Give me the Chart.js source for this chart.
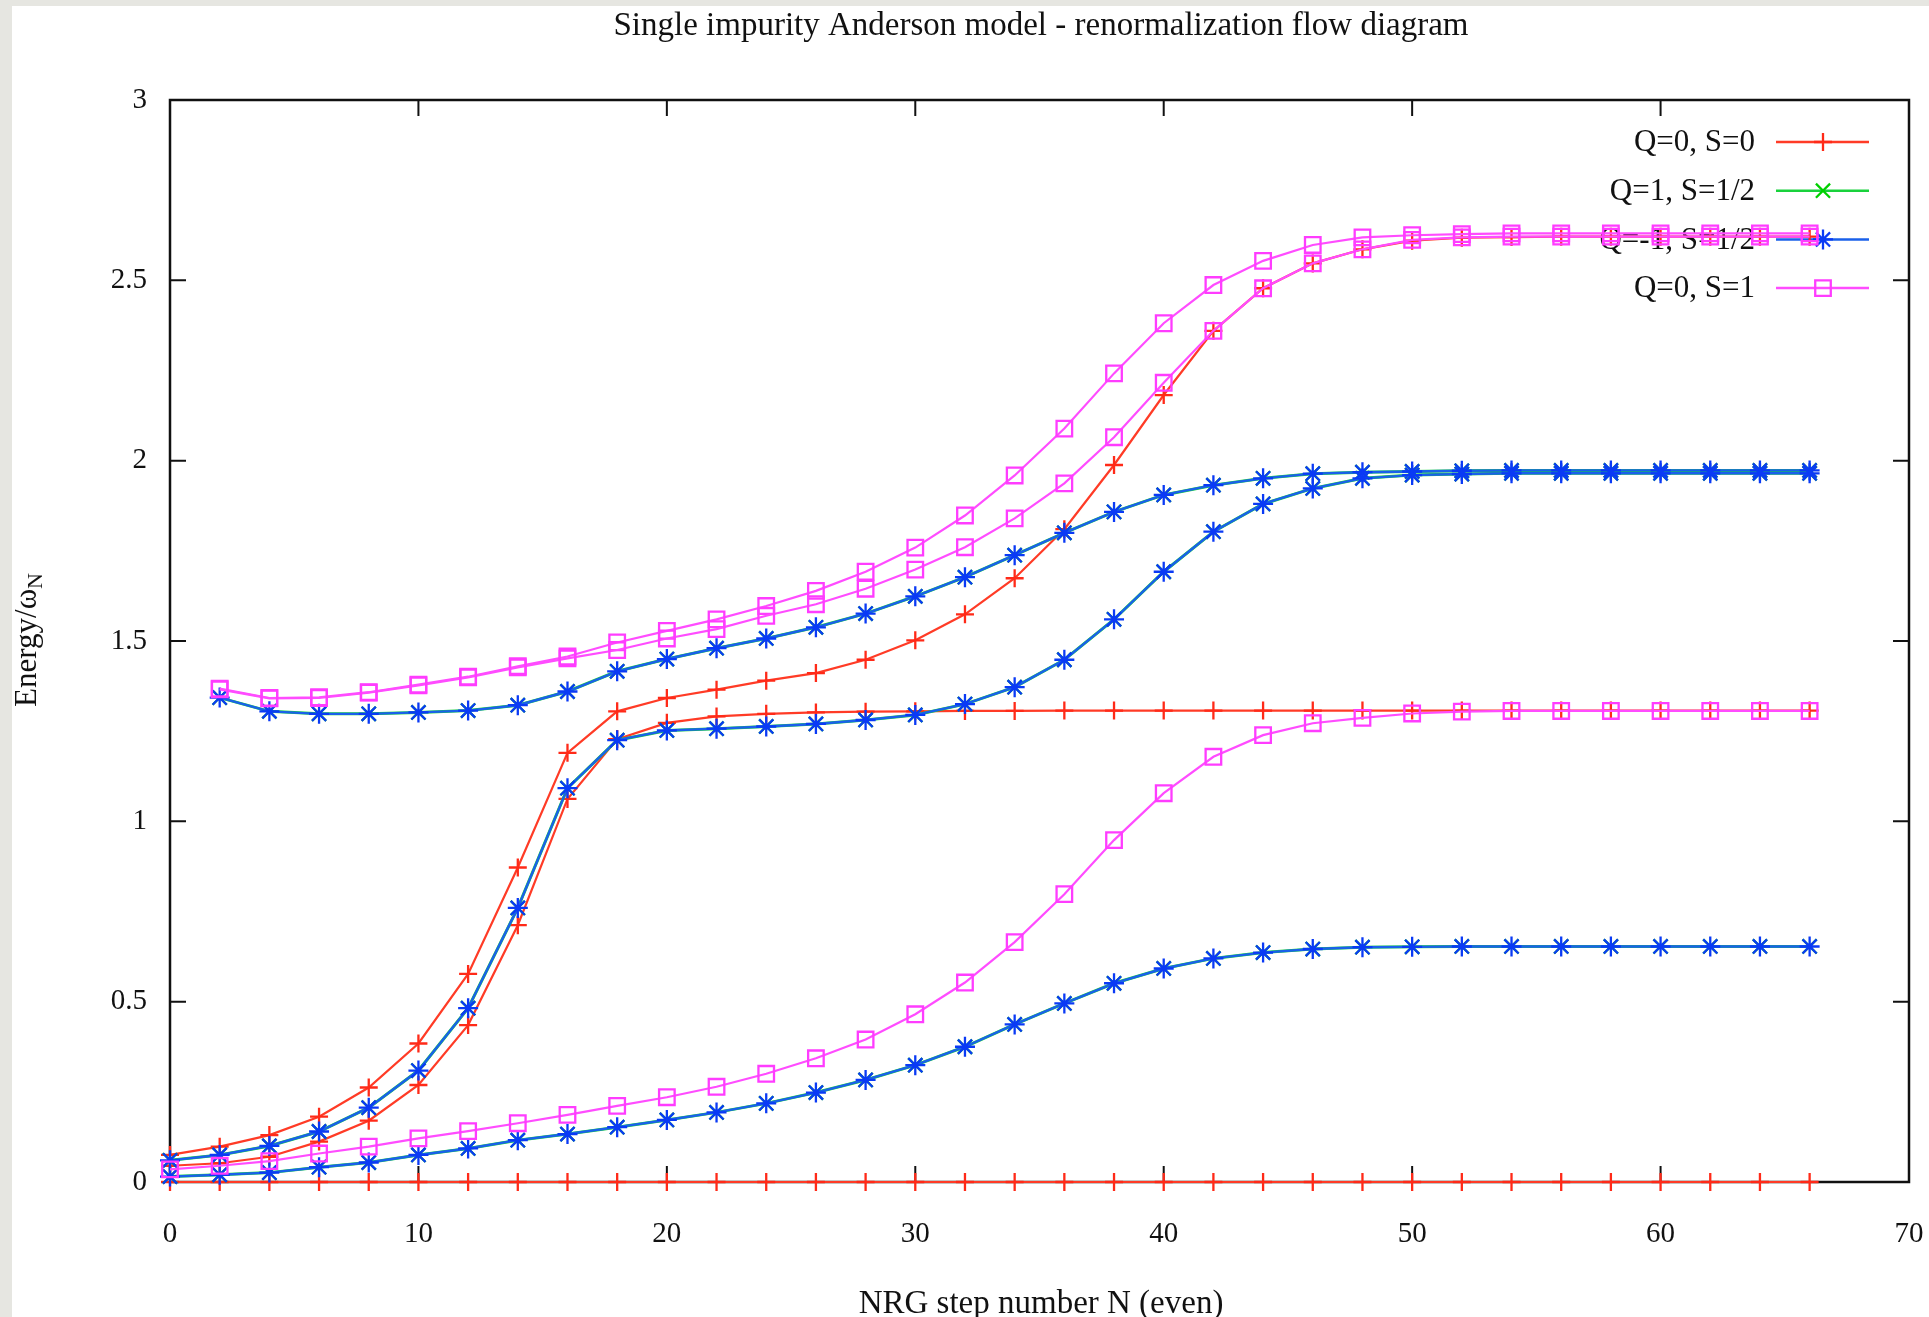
<!DOCTYPE html>
<html>
<head>
<meta charset="utf-8">
<title>Single impurity Anderson model - renormalization flow diagram</title>
<script src="https://cdn.jsdelivr.net/npm/chart.js@4.4.0/dist/chart.umd.min.js"></script>
<style>
    html, body { margin: 0; padding: 0; background: #e6e6e1; overflow: hidden; }
    #wrap { position: absolute; left: 12px; top: 6px; width: 1917px; height: 1311px; background: #fff; }
</style>
</head>
<body>
<div id="wrap"><canvas id="flowChart" width="1917" height="1311"></canvas></div>
<script>
// NRG iteration numbers (even steps only)
const steps = [0, 2, 4, 6, 8, 10, 12, 14, 16, 18, 20, 22, 24, 26, 28, 30, 32,
               34, 36, 38, 40, 42, 44, 46, 48, 50, 52, 54, 56, 58, 60, 62, 64, 66];

// Q=0, S=0 levels
const q0s0Ground = [0, 0, 0, 0, 0, 0, 0, 0, 0, 0, 0, 0, 0, 0, 0, 0, 0,
                    0, 0, 0, 0, 0, 0, 0, 0, 0, 0, 0, 0, 0, 0, 0, 0, 0];
const q0s0Upper = [0.075, 0.098, 0.130, 0.181, 0.262, 0.384, 0.577, 0.872, 1.190, 1.305, 1.342, 1.365, 1.390, 1.411, 1.448, 1.502, 1.574,
                   1.674, 1.810, 1.988, 2.182, 2.360, 2.478, 2.547, 2.586, 2.610, 2.618, 2.620, 2.621, 2.621, 2.621, 2.621, 2.621, 2.621];
const q0s0Lower = [0.045, 0.052, 0.070, 0.112, 0.170, 0.269, 0.435, 0.712, 1.062, 1.228, 1.273, 1.291, 1.298, 1.302, 1.304, 1.305, 1.306,
                   1.306, 1.307, 1.307, 1.307, 1.307, 1.307, 1.307, 1.307, 1.307, 1.307, 1.307, 1.307, 1.307, 1.307, 1.307, 1.307, 1.307];

// Q=+1 and Q=-1, S=1/2 levels (identical at particle-hole symmetry)
const qs12Low = [0.015, 0.020, 0.026, 0.041, 0.054, 0.075, 0.093, 0.116, 0.133, 0.152, 0.172, 0.193, 0.218, 0.248, 0.283, 0.324, 0.375,
                 0.437, 0.495, 0.551, 0.592, 0.620, 0.636, 0.646, 0.651, 0.652, 0.653, 0.653, 0.653, 0.653, 0.653, 0.653, 0.653, 0.653];
const qs12Mid = [0.060, 0.075, 0.100, 0.140, 0.206, 0.309, 0.482, 0.760, 1.092, 1.225, 1.252, 1.257, 1.263, 1.270, 1.281, 1.295, 1.325,
                 1.372, 1.448, 1.560, 1.692, 1.803, 1.880, 1.923, 1.951, 1.960, 1.963, 1.965, 1.965, 1.965, 1.965, 1.965, 1.965, 1.965];
const qs12High = [null, 1.343, 1.305, 1.298, 1.298, 1.302, 1.307, 1.322, 1.360, 1.416, 1.450, 1.480, 1.507, 1.538, 1.576, 1.624, 1.677,
                  1.738, 1.800, 1.858, 1.905, 1.932, 1.951, 1.964, 1.968, 1.970, 1.972, 1.973, 1.973, 1.973, 1.973, 1.973, 1.973, 1.973];

// Q=0, S=1 levels
const q0s1Low = [0.035, 0.045, 0.058, 0.079, 0.098, 0.121, 0.141, 0.163, 0.186, 0.211, 0.235, 0.264, 0.300, 0.343, 0.395, 0.465, 0.553,
                 0.665, 0.798, 0.948, 1.078, 1.179, 1.239, 1.272, 1.287, 1.299, 1.304, 1.306, 1.306, 1.306, 1.306, 1.306, 1.306, 1.306];
const q0s1Mid = [null, 1.366, 1.341, 1.342, 1.357, 1.377, 1.399, 1.427, 1.452, 1.475, 1.507, 1.533, 1.570, 1.602, 1.645, 1.698, 1.760,
                 1.840, 1.937, 2.065, 2.216, 2.360, 2.478, 2.547, 2.586, 2.612, 2.619, 2.621, 2.621, 2.621, 2.621, 2.621, 2.621, 2.621];
const q0s1High = [null, 1.368, 1.342, 1.344, 1.358, 1.379, 1.401, 1.430, 1.457, 1.496, 1.528, 1.560, 1.597, 1.639, 1.692, 1.759, 1.848,
                  1.959, 2.089, 2.242, 2.381, 2.487, 2.554, 2.598, 2.619, 2.625, 2.628, 2.630, 2.630, 2.630, 2.630, 2.630, 2.630, 2.630];

const xTicksMax = 70;
const yTicksMax = 3;

const serif = '"Liberation Serif", "DejaVu Serif", "Times New Roman", serif';

// one entry per symmetry sector, drawn red -> green -> blue -> magenta
const sectors = [
    { label: 'Q=0, S=0', line: '#ff3b26', mark: '#ff2a18', style: 'cross', radius: 9, width: 2.2, curves: [q0s0Ground, q0s0Upper, q0s0Lower] },
    { label: 'Q=1, S=1/2', line: '#19d23c', mark: '#00d000', style: 'crossRot', radius: 10, width: 3, curves: [qs12Low, qs12Mid, qs12High] },
    { label: 'Q=-1, S=1/2', line: '#1a60ea', mark: '#0a3af5', style: 'star', radius: 10, width: 2.4, curves: [qs12Low, qs12Mid, qs12High] },
    { label: 'Q=0, S=1', line: '#ff4cff', mark: '#ff3cff', style: 'rect', radius: 11, width: 2.2, curves: [q0s1Low, q0s1Mid, q0s1High] }
];

function toPoints(values) {
    return steps.map((n, i) => ({ x: n, y: values[i] }));
}

const datasets = [];
sectors.forEach((s, k) => {
    s.curves.forEach(c => {
        datasets.push({
            label: s.label,
            data: toPoints(c),
            borderColor: s.line,
            borderWidth: s.width,
            pointStyle: s.style,
            pointRadius: s.radius,
            pointBorderColor: s.mark,
            pointBackgroundColor: 'rgba(0,0,0,0)',
            pointBorderWidth: 2.3,
            tension: 0,
            spanGaps: false,
            clip: false,
            order: 10 - k
        });
    });
});

// gnuplot-style marker for the key
function keyMark(ctx, style, r, x, y) {
    const d = r * Math.SQRT1_2;
    ctx.beginPath();
    if (style === 'cross' || style === 'star') {
        ctx.moveTo(x - r, y); ctx.lineTo(x + r, y);
        ctx.moveTo(x, y - r); ctx.lineTo(x, y + r);
    }
    if (style === 'crossRot' || style === 'star') {
        ctx.moveTo(x - d, y - d); ctx.lineTo(x + d, y + d);
        ctx.moveTo(x - d, y + d); ctx.lineTo(x + d, y - d);
    }
    if (style === 'rect') {
        ctx.rect(x - d, y - d, 2 * d, 2 * d);
    }
    ctx.stroke();
}

function drawKey(chart) {
    const ctx = chart.ctx;
    const textRight = 1743, lineFrom = 1764, lineTo = 1857, markX = 1811;
    ctx.save();
    ctx.font = '31px ' + serif;
    ctx.fillStyle = '#111';
    ctx.textAlign = 'right';
    ctx.textBaseline = 'middle';
    sectors.forEach((s, i) => {
        const y = 136 + i * 48.7;
        ctx.fillText(s.label, textRight, y + 1);
        ctx.strokeStyle = s.line;
        ctx.lineWidth = 2.5;
        ctx.beginPath();
        ctx.moveTo(lineFrom, y);
        ctx.lineTo(lineTo, y);
        ctx.stroke();
        ctx.strokeStyle = s.mark;
        ctx.lineWidth = 2.3;
        keyMark(ctx, s.style, s.radius, markX, y);
    });
    ctx.restore();
}

const frame = {
    id: 'frame',
    beforeDatasetsDraw(chart) {
        const { ctx, chartArea: a, scales: { x, y } } = chart;
        drawKey(chart);
        ctx.save();
        ctx.strokeStyle = '#111';
        ctx.lineWidth = 2.5;
        ctx.strokeRect(a.left, a.top, a.right - a.left, a.bottom - a.top);
        ctx.lineWidth = 2;
        ctx.beginPath();
        x.ticks.forEach(t => {
            const px = x.getPixelForValue(t.value);
            ctx.moveTo(px, a.bottom); ctx.lineTo(px, a.bottom - 16);
            ctx.moveTo(px, a.top); ctx.lineTo(px, a.top + 16);
        });
        y.ticks.forEach(t => {
            const py = y.getPixelForValue(t.value);
            ctx.moveTo(a.left, py); ctx.lineTo(a.left + 16, py);
            ctx.moveTo(a.right, py); ctx.lineTo(a.right - 16, py);
        });
        ctx.stroke();
        ctx.restore();
    },
    afterDraw(chart) {
        const ctx = chart.ctx;
        ctx.save();
        ctx.fillStyle = '#111';
        ctx.textAlign = 'center';
        ctx.textBaseline = 'alphabetic';
        ctx.font = '33px ' + serif;
        ctx.fillText('Single impurity Anderson model - renormalization flow diagram', 1029, 29);
        ctx.textBaseline = 'middle';
        ctx.fillText('NRG step number N (even)', 1029, 1298);

        // rotated y title with subscript N
        ctx.translate(16, 634);
        ctx.rotate(-Math.PI / 2);
        ctx.textAlign = 'left';
        ctx.font = '31px ' + serif;
        const main = 'Energy/\u03c9';
        const wMain = ctx.measureText(main).width;
        ctx.font = '22px ' + serif;
        const wSub = ctx.measureText('N').width;
        const x0 = -(wMain + wSub) / 2;
        ctx.font = '31px ' + serif;
        ctx.fillText(main, x0, 0);
        ctx.font = '22px ' + serif;
        ctx.fillText('N', x0 + wMain, 8);
        ctx.restore();
    }
};

new Chart(document.getElementById('flowChart'), {
    type: 'line',
    data: { datasets: datasets },
    plugins: [frame],
    options: {
        responsive: false,
        animation: false,
        events: [],
        layout: { padding: { top: 94, right: 20, left: 0, bottom: 0 } },
        plugins: { legend: { display: false }, tooltip: { enabled: false }, title: { display: false } },
        scales: {
            x: {
                type: 'linear',
                min: 0,
                max: xTicksMax,
                grid: { display: false },
                border: { display: false },
                ticks: { stepSize: 10, padding: 27, color: '#111', font: { family: serif, size: 29 } },
                afterFit(scale) {
                    scale.height = 135;
                    scale.paddingLeft = 0;
                    scale.paddingRight = 0;
                }
            },
            y: {
                type: 'linear',
                min: 0,
                max: yTicksMax,
                grid: { display: false },
                border: { display: false },
                ticks: {
                    stepSize: 0.5,
                    padding: 15,
                    color: '#111',
                    font: { family: serif, size: 29 },
                    callback: v => String(v)
                },
                afterFit(scale) {
                    scale.width = 158;
                    scale.paddingTop = 0;
                    scale.paddingBottom = 0;
                }
            }
        }
    }
});
</script>
</body>
</html>
